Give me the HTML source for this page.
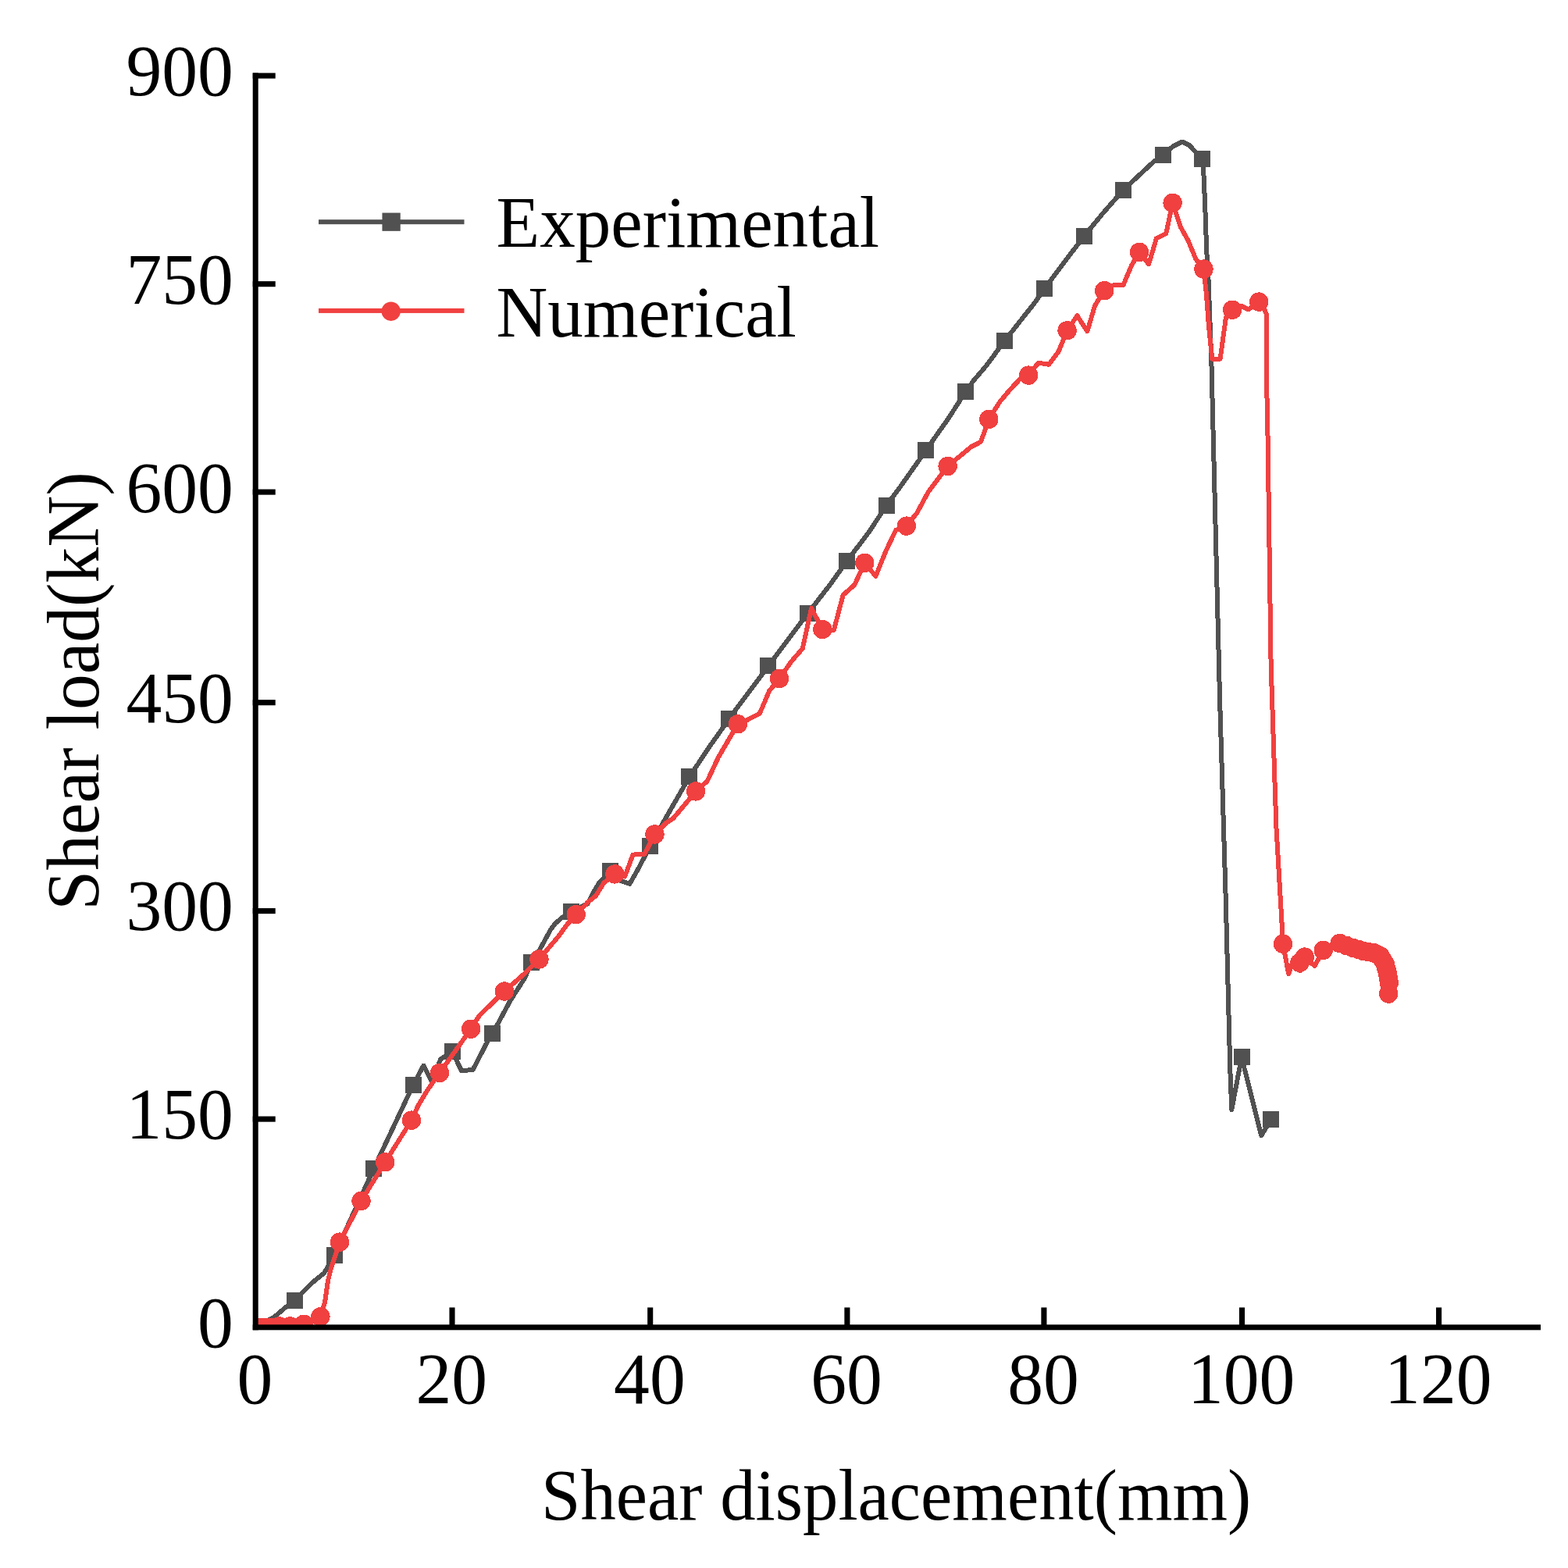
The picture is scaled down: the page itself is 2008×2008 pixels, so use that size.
<!DOCTYPE html>
<html lang="en"><head><meta charset="utf-8"><title>Shear load vs shear displacement</title>
<style>
html,body{margin:0;padding:0;background:#fff;}
body{width:2008px;height:2008px;overflow:hidden;}
svg{display:block;}
text{font-family:"Liberation Serif","Times New Roman",Times,serif;fill:#000;}
</style></head><body>
<svg xmlns="http://www.w3.org/2000/svg" width="2008" height="2008" viewBox="0 0 2008 2008">
<rect width="2008" height="2008" fill="#fff"/>
<defs><clipPath id="plot"><rect x="327.2" y="90" width="1650" height="1610.5"/></clipPath></defs>
<g clip-path="url(#plot)" shape-rendering="crispEdges">
<polyline fill="none" stroke="#515151" stroke-width="6.0" stroke-linejoin="round" stroke-linecap="round" points="327.2,1699.8 345.0,1690.0 352.0,1686.0 366.0,1674.0 377.7,1665.1 399.4,1643.0 414.9,1630.5 420.0,1622.0 428.2,1607.1 478.7,1496.6 529.2,1389.2 542.4,1364.6 553.0,1385.0 564.2,1356.4 579.8,1346.5 584.9,1358.5 591.1,1371.3 605.6,1369.9 622.2,1337.8 630.3,1323.3 636.6,1312.9 653.2,1281.9 671.8,1252.9 680.8,1232.2 691.5,1215.6 705.0,1190.8 711.2,1182.5 719.5,1175.3 731.3,1167.6 752.8,1157.2 758.2,1146.0 767.1,1130.7 781.8,1115.8 794.0,1127.6 806.4,1131.8 818.8,1110.0 832.3,1083.7 851.8,1049.0 882.8,994.9 895.2,976.4 907.7,957.4 920.1,940.0 933.3,920.8 957.3,888.6 965.6,877.7 983.9,852.9 996.0,836.7 1010.0,818.0 1024.0,799.4 1034.4,785.8 1048.4,767.5 1062.9,748.9 1084.9,718.1 1112.1,682.3 1135.4,647.1 1153.5,622.5 1185.9,576.7 1203.2,551.8 1213.6,537.3 1236.4,501.8 1246.7,487.5 1263.2,468.1 1286.9,436.1 1310.0,406.7 1324.5,388.5 1337.4,369.9 1361.8,337.2 1388.0,302.8 1411.5,274.2 1438.5,243.2 1463.3,220.2 1475.7,208.7 1489.0,198.0 1502.6,187.3 1514.0,181.5 1523.3,186.2 1539.5,203.8 1541.0,215.0 1542.1,237.0 1543.6,274.0 1545.2,321.0 1547.4,355.0 1551.4,464.0 1553.5,550.0 1562.2,900.0 1569.7,1150.0 1575.3,1369.5 1577.3,1421.2 1590.0,1353.9 1615.2,1454.3 1627.9,1433.6"/>
<g fill="#515151">
<rect x="367.2" y="1654.6" width="21.0" height="21.0"/>
<rect x="417.7" y="1596.6" width="21.0" height="21.0"/>
<rect x="468.2" y="1486.1" width="21.0" height="21.0"/>
<rect x="518.7" y="1378.7" width="21.0" height="21.0"/>
<rect x="569.3" y="1336.0" width="21.0" height="21.0"/>
<rect x="619.8" y="1312.8" width="21.0" height="21.0"/>
<rect x="670.3" y="1221.7" width="21.0" height="21.0"/>
<rect x="720.8" y="1157.1" width="21.0" height="21.0"/>
<rect x="771.3" y="1105.3" width="21.0" height="21.0"/>
<rect x="821.8" y="1073.2" width="21.0" height="21.0"/>
<rect x="872.3" y="984.4" width="21.0" height="21.0"/>
<rect x="922.8" y="910.3" width="21.0" height="21.0"/>
<rect x="973.4" y="842.4" width="21.0" height="21.0"/>
<rect x="1023.9" y="775.3" width="21.0" height="21.0"/>
<rect x="1074.4" y="707.6" width="21.0" height="21.0"/>
<rect x="1124.9" y="636.6" width="21.0" height="21.0"/>
<rect x="1175.4" y="566.2" width="21.0" height="21.0"/>
<rect x="1225.9" y="491.3" width="21.0" height="21.0"/>
<rect x="1276.4" y="425.6" width="21.0" height="21.0"/>
<rect x="1326.9" y="359.4" width="21.0" height="21.0"/>
<rect x="1377.5" y="292.3" width="21.0" height="21.0"/>
<rect x="1428.0" y="232.7" width="21.0" height="21.0"/>
<rect x="1478.5" y="187.5" width="21.0" height="21.0"/>
<rect x="1529.0" y="193.3" width="21.0" height="21.0"/>
<rect x="1579.5" y="1343.4" width="21.0" height="21.0"/>
<rect x="1617.4" y="1423.1" width="21.0" height="21.0"/>
</g>
<polyline fill="none" stroke="#f14040" stroke-width="6.0" stroke-linejoin="round" stroke-linecap="round" points="327.2,1699.8 342.4,1699.9 357.5,1698.4 371.7,1698.4 389.2,1695.8 410.4,1686.3 416.0,1668.0 420.0,1640.0 424.0,1624.0 435.0,1590.6 462.5,1538.0 493.2,1488.3 527.0,1434.6 535.2,1416.5 547.6,1395.8 563.0,1373.9 603.1,1317.7 613.9,1300.5 646.0,1269.5 671.8,1246.7 690.5,1228.5 702.9,1213.6 715.3,1199.1 725.7,1184.6 737.7,1171.1 752.6,1155.6 762.9,1147.3 773.3,1130.7 787.4,1119.4 800.2,1122.5 810.5,1094.6 825.5,1093.6 838.5,1068.5 853.8,1053.3 862.1,1048.1 891.1,1013.4 905.6,1000.5 920.1,969.5 944.9,927.2 957.3,921.8 972.9,913.6 985.3,884.6 998.1,869.0 1013.2,847.3 1027.7,830.7 1039.1,779.0 1053.3,806.0 1067.8,807.0 1079.7,762.0 1094.3,749.0 1107.3,720.8 1121.4,737.8 1134.9,704.7 1147.3,678.8 1160.8,673.6 1174.2,657.0 1188.7,630.1 1201.1,613.6 1213.6,597.0 1230.1,583.5 1243.6,572.2 1256.0,565.9 1266.3,536.9 1280.5,514.4 1293.0,499.6 1306.0,485.6 1317.2,480.6 1329.7,464.7 1343.2,466.8 1355.6,450.2 1366.6,423.3 1379.4,404.2 1392.4,424.3 1402.2,391.2 1414.2,372.2 1426.0,365.3 1438.4,365.3 1448.8,340.5 1459.1,322.9 1471.1,338.4 1480.9,305.3 1493.3,299.1 1501.6,259.7 1511.9,290.8 1521.2,307.3 1531.6,332.2 1541.5,344.6 1545.0,377.7 1548.1,419.2 1552.3,459.5 1562.6,459.5 1569.9,406.7 1578.2,396.8 1589.5,391.8 1598.9,396.4 1612.3,386.6 1619.5,397.0 1622.0,403.0 1622.2,495.0 1623.4,550.0 1627.6,850.0 1634.3,1057.0 1642.1,1191.6 1643.0,1208.8 1650.2,1247.3 1656.0,1229.7 1664.7,1243.2 1670.7,1225.6 1683.5,1237.0 1694.7,1216.9 1715.6,1208.0 1732.6,1213.8 1747.1,1218.3 1758.5,1220.0 1767.8,1224.5 1774.0,1234.9 1777.1,1247.3 1778.8,1258.7 1778.2,1272.6"/>
<g fill="#f14040">
<circle cx="327.2" cy="1700.3" r="12.2"/>
<circle cx="330.7" cy="1700.3" r="12.2"/>
<circle cx="334.2" cy="1700.3" r="12.2"/>
<circle cx="337.7" cy="1700.3" r="12.2"/>
<circle cx="341.2" cy="1700.3" r="12.2"/>
<circle cx="344.7" cy="1700.3" r="12.2"/>
<circle cx="348.2" cy="1700.3" r="12.2"/>
<circle cx="351.7" cy="1700.3" r="12.2"/>
<circle cx="355.2" cy="1700.3" r="12.2"/>
<circle cx="358.7" cy="1700.3" r="12.2"/>
<circle cx="362.2" cy="1700.3" r="12.2"/>
<circle cx="365.7" cy="1700.3" r="12.2"/>
<circle cx="369.2" cy="1700.3" r="12.2"/>
<circle cx="372.7" cy="1700.3" r="12.2"/>
<circle cx="376.2" cy="1700.3" r="12.2"/>
<circle cx="379.7" cy="1700.3" r="12.2"/>
<circle cx="383.2" cy="1700.3" r="12.2"/>
<circle cx="386.7" cy="1700.3" r="12.2"/>
<circle cx="390.2" cy="1700.3" r="12.2"/>
<circle cx="342.4" cy="1699.9" r="12.2"/>
<circle cx="357.5" cy="1698.4" r="12.2"/>
<circle cx="371.7" cy="1698.4" r="12.2"/>
<circle cx="389.2" cy="1695.8" r="12.2"/>
<circle cx="410.4" cy="1686.3" r="12.2"/>
<circle cx="435.0" cy="1590.6" r="12.2"/>
<circle cx="462.5" cy="1538.0" r="12.2"/>
<circle cx="493.2" cy="1488.3" r="12.2"/>
<circle cx="527.0" cy="1434.6" r="12.2"/>
<circle cx="563.0" cy="1373.9" r="12.2"/>
<circle cx="603.1" cy="1317.7" r="12.2"/>
<circle cx="646.0" cy="1269.5" r="12.2"/>
<circle cx="690.5" cy="1228.5" r="12.2"/>
<circle cx="737.7" cy="1171.1" r="12.2"/>
<circle cx="787.4" cy="1119.4" r="12.2"/>
<circle cx="838.5" cy="1068.5" r="12.2"/>
<circle cx="891.1" cy="1013.4" r="12.2"/>
<circle cx="944.9" cy="927.2" r="12.2"/>
<circle cx="998.1" cy="869.0" r="12.2"/>
<circle cx="1053.3" cy="806.0" r="12.2"/>
<circle cx="1107.3" cy="720.8" r="12.2"/>
<circle cx="1160.8" cy="673.6" r="12.2"/>
<circle cx="1213.6" cy="597.0" r="12.2"/>
<circle cx="1266.3" cy="536.9" r="12.2"/>
<circle cx="1317.2" cy="480.6" r="12.2"/>
<circle cx="1366.6" cy="423.3" r="12.2"/>
<circle cx="1414.2" cy="372.2" r="12.2"/>
<circle cx="1459.1" cy="322.9" r="12.2"/>
<circle cx="1501.6" cy="259.7" r="12.2"/>
<circle cx="1541.5" cy="344.6" r="12.2"/>
<circle cx="1578.2" cy="396.8" r="12.2"/>
<circle cx="1612.3" cy="386.6" r="12.2"/>
<circle cx="1643.0" cy="1208.8" r="12.2"/>
<circle cx="1670.7" cy="1225.6" r="12.2"/>
<circle cx="1694.7" cy="1216.9" r="12.2"/>
<circle cx="1715.6" cy="1208.0" r="12.2"/>
<circle cx="1732.6" cy="1213.8" r="12.2"/>
<circle cx="1747.1" cy="1218.3" r="12.2"/>
<circle cx="1758.5" cy="1220.0" r="12.2"/>
<circle cx="1767.8" cy="1224.5" r="12.2"/>
<circle cx="1774.0" cy="1234.9" r="12.2"/>
<circle cx="1777.1" cy="1247.3" r="12.2"/>
<circle cx="1778.8" cy="1258.7" r="12.2"/>
<circle cx="1778.2" cy="1272.6" r="12.2"/>
<circle cx="1724.1" cy="1210.9" r="12.2"/>
<circle cx="1739.8" cy="1216.0" r="12.2"/>
<circle cx="1752.8" cy="1219.2" r="12.2"/>
<circle cx="1763.2" cy="1222.2" r="12.2"/>
<circle cx="1770.9" cy="1229.7" r="12.2"/>
<circle cx="1775.5" cy="1241.1" r="12.2"/>
<circle cx="1777.9" cy="1253.0" r="12.2"/>
<circle cx="1664.3" cy="1232.9" r="12.2"/>
</g>
</g>
<g fill="#000">
<rect x="323.7" y="93.4" width="7" height="1609.9"/>
<rect x="323.7" y="1696.3" width="1649.3" height="7"/>
<rect x="323.7" y="1429.55" width="29" height="7.1"/>
<rect x="323.7" y="1163.05" width="29" height="7.1"/>
<rect x="323.7" y="896.15" width="29" height="7.1"/>
<rect x="323.7" y="626.55" width="29" height="7.1"/>
<rect x="323.7" y="360.15" width="29" height="7.1"/>
<rect x="323.7" y="93.45" width="29" height="7.1"/>
<rect x="575.45" y="1674.4" width="7.1" height="25"/>
<rect x="829.15" y="1674.4" width="7.1" height="25"/>
<rect x="1081.35" y="1674.4" width="7.1" height="25"/>
<rect x="1333.35" y="1674.4" width="7.1" height="25"/>
<rect x="1586.95" y="1674.4" width="7.1" height="25"/>
<rect x="1839.05" y="1674.4" width="7.1" height="25"/>
</g>
<text transform="translate(298.90,1724.80) scale(1.0,1.02)" font-size="91.6" text-anchor="end">0</text>
<text transform="translate(298.90,1458.00) scale(1.0,1.02)" font-size="91.6" text-anchor="end">150</text>
<text transform="translate(298.90,1191.40) scale(1.0,1.02)" font-size="91.6" text-anchor="end">300</text>
<text transform="translate(298.90,924.50) scale(1.0,1.02)" font-size="91.6" text-anchor="end">450</text>
<text transform="translate(298.90,655.90) scale(1.0,1.02)" font-size="91.6" text-anchor="end">600</text>
<text transform="translate(298.90,389.00) scale(1.0,1.02)" font-size="91.6" text-anchor="end">750</text>
<text transform="translate(298.90,122.08) scale(1.0,1.02)" font-size="91.6" text-anchor="end">900</text>
<text transform="translate(326.40,1797.00) scale(1.0,1.02)" font-size="91.6" text-anchor="middle">0</text>
<text transform="translate(578.20,1797.00) scale(1.0,1.02)" font-size="91.6" text-anchor="middle">20</text>
<text transform="translate(831.90,1797.00) scale(1.0,1.02)" font-size="91.6" text-anchor="middle">40</text>
<text transform="translate(1084.10,1797.00) scale(1.0,1.02)" font-size="91.6" text-anchor="middle">60</text>
<text transform="translate(1336.10,1797.00) scale(1.0,1.02)" font-size="91.6" text-anchor="middle">80</text>
<text transform="translate(1589.70,1797.00) scale(1.0,1.02)" font-size="91.6" text-anchor="middle">100</text>
<text transform="translate(1841.80,1797.00) scale(1.0,1.02)" font-size="91.6" text-anchor="middle">120</text>
<text transform="translate(1147.60,1946.00) scale(1.0,1.03)" font-size="90.7" text-anchor="middle">Shear displacement(mm)</text>
<text transform="translate(125.90,885.00) rotate(-90) scale(1.0,1.03)" font-size="91.5" text-anchor="middle">Shear load(kN)</text>
<rect x="408" y="281.20" width="186.5" height="6.0" fill="#515151"/>
<rect x="489.45" y="272.55" width="23.3" height="23.3" fill="#515151"/>
<rect x="408" y="394.90" width="186.5" height="6.0" fill="#f14040"/>
<circle cx="500.7" cy="398.70" r="12.2" fill="#f14040"/>
<text transform="translate(635.50,316.00) scale(1.0,1.02)" font-size="91.1" text-anchor="start">Experimental</text>
<text transform="translate(635.50,430.50) scale(1.0,1.02)" font-size="91.1" text-anchor="start">Numerical</text>
</svg>
</body></html>
